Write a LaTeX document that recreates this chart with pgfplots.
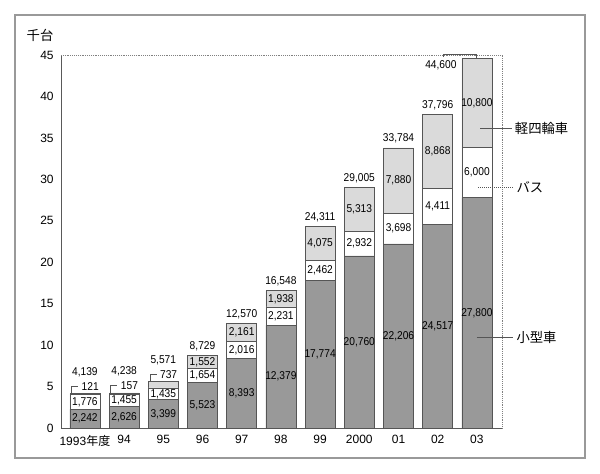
\documentclass[border=0pt]{standalone}
\usepackage{fontspec}
\setmainfont{Liberation Sans}
\newfontfamily\jp{Noto Sans CJK JP}
\newfontfamily\lab[FakeStretch=0.9]{Liberation Sans}
\usepackage{pgfplots}
\pgfplotsset{compat=1.18}
\usepackage{pgfplotstable}
\definecolor{smallcol}{HTML}{999999}
\definecolor{keicol}{HTML}{DADADA}
\definecolor{edge}{HTML}{555555}

\pgfplotstableread{
x small bus kei total
0 2242 1776 121 4139
1 2626 1455 157 4238
2 3399 1435 737 5571
3 5523 1654 1552 8729
4 8393 2016 2161 12570
5 12379 2231 1938 16548
6 17774 2462 4075 24311
7 20760 2932 5313 29005
8 22206 3698 7880 33784
9 24517 4411 8868 37796
10 27800 6000 10800 44600
}\data

\pgfplotsset{
  bars/.style={ybar, bar width=22.5pt, bar shift=0pt, draw=edge, line width=0.5pt},
  lbl/.style={draw=none, mark=none, nodes near coords, point meta=explicit,
    every node near coord/.append style={font=\lab\fontsize{8.5}{9}\selectfont, inner sep=0.5pt, anchor=center}},
}

\begin{document}
\begin{tikzpicture}
\useasboundingbox (0,0) rectangle (450pt,355.5pt);
\draw[gray!80, line width=0.8pt] (11.25pt,12pt) rectangle (438.75pt,344.25pt);
\node[anchor=center, font=\jp\fontsize{10}{12}\selectfont] at (30pt,329.25pt) {千台};
\begin{axis}[
  at={(45.75pt,34.5pt)}, anchor=south west,
  scale only axis, width=330.75pt, height=279.75pt,
  xmin=-0.61, xmax=10.64, ymin=0, ymax=45,
  xtick={0,...,10},
  xticklabels={{1993{\jp 年度}},94,95,96,97,98,99,2000,01,02,03},
  ytick={0,5,...,45},
  separate axis lines,
  axis x line*=bottom, axis y line*=left,
  x axis line style={-, draw=gray!70!black, line width=0.6pt},
  y axis line style={-, draw=gray!70!black, line width=0.6pt},
  major tick length=0pt,
  tick label style={font=\fontsize{9}{10}\selectfont},
  xticklabel style={yshift=-2pt},
  yticklabel style={xshift=-2pt},
  clip=false,
  /pgf/number format/fixed,
  /pgf/number format/precision=0,
  /pgf/number format/1000 sep={,},
  /pgf/number format/assume math mode=true,
]
\draw[gray, densely dotted] (rel axis cs:0,1) -- (rel axis cs:1,1) -- (rel axis cs:1,0);

% bars (overlapping cumulative heights)
\addplot[bars, fill=keicol] table[x=x, y expr=\thisrow{total}/1000] {\data};
\addplot[bars, fill=white] table[x=x, y expr=(\thisrow{small}+\thisrow{bus})/1000] {\data};
\addplot[bars, fill=smallcol] table[x=x, y expr=\thisrow{small}/1000] {\data};

% segment labels
\addplot[lbl] table[x=x, y expr=\thisrow{small}/2000, meta=small] {\data};
\addplot[lbl] table[x=x, y expr=(\thisrow{small}+\thisrow{bus}/2)/1000, meta=bus] {\data};
\addplot[lbl, restrict x to domain=3:10] table[x=x, y expr=(\thisrow{small}+\thisrow{bus}+\thisrow{kei}/2)/1000, meta=kei] {\data};
\addplot[lbl, restrict x to domain=0:2, every node near coord/.append style={xshift=4pt, yshift=5.5pt}]
  table[x=x, y expr=\thisrow{total}/1000, meta=kei] {\data};

% totals
\addplot[lbl, restrict x to domain=0:2, every node near coord/.append style={yshift=16.3pt}]
  table[x=x, y expr=\thisrow{total}/1000, meta=total] {\data};
\addplot[lbl, restrict x to domain=3:9, every node near coord/.append style={yshift=7pt}]
  table[x=x, y expr=\thisrow{total}/1000, meta=total] {\data};
\addplot[lbl, restrict x to domain=10:10, every node near coord/.append style={xshift=-27pt, yshift=-5.25pt}]
  table[x=x, y expr=\thisrow{total}/1000, meta=total] {\data};

% leader brackets
\draw[edge, line width=0.5pt] (axis cs:0,4.139) ++(-10pt,0pt) -- ++(0pt,5.5pt) -- ++(5pt,0pt);
\draw[edge, line width=0.5pt] (axis cs:1,4.238) ++(-10pt,0pt) -- ++(0pt,5.5pt) -- ++(5pt,0pt);
\draw[edge, line width=0.5pt] (axis cs:2,5.571) ++(-10pt,0pt) -- ++(0pt,5.5pt) -- ++(5pt,0pt);
\draw[edge, line width=0.5pt] (axis cs:9.133,44.75) -- (axis cs:9.133,45.1) -- (axis cs:9.974,45.1) -- (axis cs:9.974,44.6);

% series names
\draw[edge, line width=0.5pt] (axis cs:10.08,36.19) -- (axis cs:10.89,36.19);
\node[anchor=west, font=\jp\fontsize{10}{12}\selectfont, inner sep=1pt] at (axis cs:10.93,36.19) {軽四輪車};
\draw[edge, line width=0.5pt, densely dotted] (axis cs:10.03,29.07) -- (axis cs:10.93,29.07);
\node[anchor=west, font=\jp\fontsize{10}{12}\selectfont, inner sep=1pt] at (axis cs:10.97,29.07) {バス};
\draw[edge, line width=0.5pt] (axis cs:10.0,10.98) -- (axis cs:10.93,10.98);
\node[anchor=west, font=\jp\fontsize{10}{12}\selectfont, inner sep=1pt] at (axis cs:10.97,10.98) {小型車};
\end{axis}
\end{tikzpicture}
\end{document}
